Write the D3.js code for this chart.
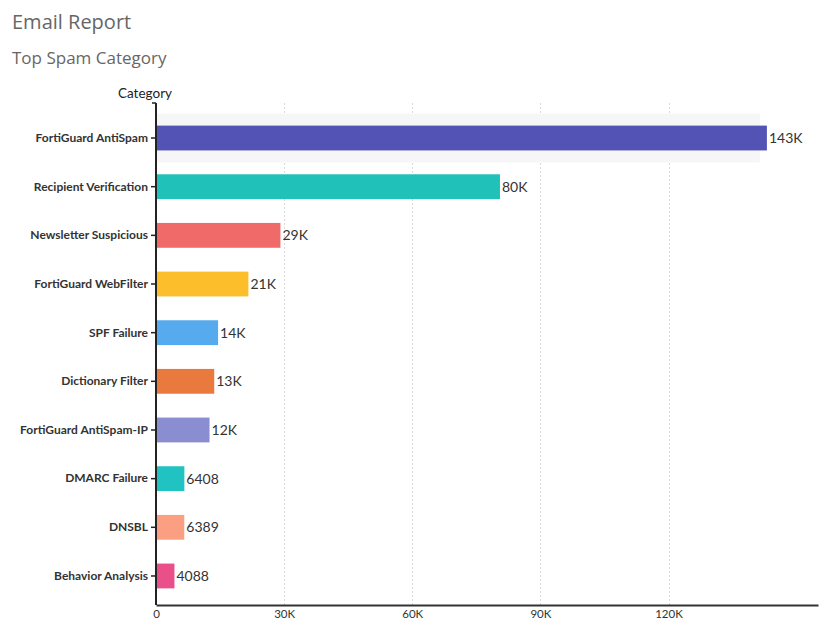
<!DOCTYPE html>
<html>
<head>
<meta charset="utf-8">
<script src="https://d3js.org/d3.v7.min.js"></script>
<style>
  body { margin: 0; background: #fff; }
  svg text { font-family: Lato, "Open Sans", sans-serif; }
  svg text.title { font-family: "Open Sans", sans-serif; fill: #666; }
</style>
</head>
<body>
<script>
  // chart data
  var categories = ["FortiGuard AntiSpam", "Recipient Verification", "Newsletter Suspicious",
    "FortiGuard WebFilter", "SPF Failure", "Dictionary Filter", "FortiGuard AntiSpam-IP",
    "DMARC Failure", "DNSBL", "Behavior Analysis"];
  var counts = [142800, 80300, 28900, 21400, 14300, 13400, 12300, 6408, 6389, 4088];
  var colors = ["#5352b5", "#1fc1b8", "#f06a6a", "#fcbf2b", "#56aaee", "#e9793d",
    "#8a8ed0", "#21c2c2", "#fb9f82", "#e9508a"];
  var xTicks = [0, 30000, 60000, 90000, 120000];

  var width = 823, height = 624;
  var svg = d3.select("body").append("svg")
      .attr("width", width)
      .attr("height", height);

  svg.append("text").attr("class", "title")
      .attr("x", 12).attr("y", 29)
      .style("font-size", "20px")
      .text("Email Report");
  svg.append("text").attr("class", "title")
      .attr("x", 12).attr("y", 64)
      .style("font-size", "17px")
      .text("Top Spam Category");

  var plotLeft = 156, plotRight = 818, plotTop = 103, plotBottom = 605;

  var x = d3.scaleLinear().domain([0, 155000]).range([plotLeft, plotRight]);
  var y = d3.scaleBand().domain(categories).range([113.7, 600.3])
      .paddingInner(0.49).paddingOuter(0.245);

  // dotted gridlines
  svg.selectAll(".grid").data(xTicks.slice(1)).enter().append("line")
      .attr("class", "grid")
      .attr("x1", function(d) { return Math.round(x(d)) + 0.5; })
      .attr("x2", function(d) { return Math.round(x(d)) + 0.5; })
      .attr("y1", plotTop)
      .attr("y2", plotBottom)
      .attr("stroke", "#d8d8d8")
      .attr("stroke-width", 1)
      .attr("stroke-dasharray", "2,2");

  // light highlight behind first row
  svg.append("rect")
      .attr("x", plotLeft).attr("y", y(categories[0]) - 12)
      .attr("width", x(counts[0]) - plotLeft - 6)
      .attr("height", y.bandwidth() + 24)
      .attr("fill", "#f6f6f6");

  var data = categories.map(function(c, i) { return { cat: c, v: counts[i], col: colors[i] }; });

  svg.selectAll(".bar").data(data).enter().append("rect")
      .attr("class", "bar")
      .attr("x", x(0) + 1)
      .attr("y", function(d) { return y(d.cat); })
      .attr("width", function(d) { return x(d.v) - x(0); })
      .attr("height", y.bandwidth())
      .attr("fill", function(d) { return d.col; });

  function fmt(v) { return v >= 10000 ? Math.round(v / 1000) + "K" : String(v); }

  svg.selectAll(".val").data(data).enter().append("text")
      .attr("x", function(d) { return x(d.v) + 3; })
      .attr("y", function(d) { return y(d.cat) + y.bandwidth() / 2; })
      .attr("dy", "0.36em")
      .style("font-size", "14px")
      .style("fill", "#333")
      .text(function(d) { return fmt(d.v); });

  // y axis
  var yAxis = svg.append("g")
      .attr("transform", "translate(" + plotLeft + ",0)")
      .call(d3.axisLeft(y).tickSize(5).tickPadding(3));
  yAxis.select(".domain").remove();
  yAxis.selectAll(".tick line").attr("stroke", "#222").attr("stroke-width", 1.5);
  yAxis.selectAll("text").style("font-size", "12px").style("font-weight", "bold").style("fill", "#333");
  svg.append("line")
      .attr("x1", plotLeft).attr("x2", plotLeft)
      .attr("y1", plotTop).attr("y2", plotBottom)
      .attr("stroke", "#222").attr("stroke-width", 2);
  svg.append("line")
      .attr("x1", plotLeft - 4).attr("x2", plotLeft)
      .attr("y1", plotTop).attr("y2", plotTop)
      .attr("stroke", "#222").attr("stroke-width", 1.5);

  svg.append("text")
      .attr("x", 145).attr("y", 98)
      .attr("text-anchor", "middle")
      .style("font-size", "13.5px")
      .style("fill", "#222")
      .text("Category");

  // x axis
  var xAxis = svg.append("g")
      .attr("transform", "translate(0," + plotBottom + ")")
      .call(d3.axisBottom(x).tickValues(xTicks).tickSize(0).tickPadding(5)
        .tickFormat(function(d) { return d === 0 ? "0" : (d / 1000) + "K"; }));
  xAxis.select(".domain").attr("stroke", "#333").attr("stroke-width", 2);
  xAxis.selectAll("text").style("font-size", "11.5px").style("fill", "#333");
</script>
</body>
</html>
